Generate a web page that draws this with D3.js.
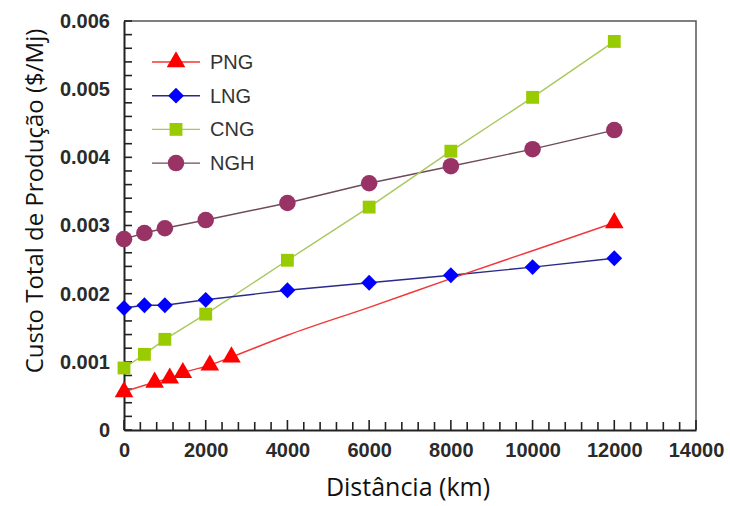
<!DOCTYPE html>
<html>
<head>
<meta charset="utf-8">
<script src="https://cdn.jsdelivr.net/npm/d3@7"></script>
<style>
  body { margin: 0; background: #fff; }
  .tick text { font-family: "Liberation Sans", Arial, sans-serif; font-weight: bold; font-size: 20px; fill: #2a2a2a; }
</style>
</head>
<body>
<div id="chart"></div>
<script>
// distances (km)
var pngX = [0, 750, 1120, 1440, 2100, 2630, 12000];
var pngY = [0.00056, 0.00070, 0.00076, 0.00084, 0.00095, 0.00107, 0.00304];
// PNG fitted curve (no markers between 2600 and 12000)
var pngCurveX = [0, 750, 1120, 1440, 2100, 2630, 4000, 6000, 8000, 10000, 12000];
var pngCurveY = [0.00056, 0.00070, 0.00076, 0.00084, 0.00095, 0.00107, 0.00139, 0.00180, 0.00222, 0.00263, 0.00304];

var distX = [0, 500, 1000, 2000, 4000, 6000, 8000, 10000, 12000];
var lngY = [0.00179, 0.00183, 0.00183, 0.00191, 0.00205, 0.00216, 0.00227, 0.00239, 0.00252];
var cngY = [0.00091, 0.00111, 0.00133, 0.00170, 0.00249, 0.00327, 0.00409, 0.00488, 0.00570];
var nghY = [0.00280, 0.00289, 0.00296, 0.00308, 0.00333, 0.00362, 0.00387, 0.00412, 0.00440];

var seriesNames = ["PNG", "LNG", "CNG", "NGH"];
var yTicks = [0, 0.001, 0.002, 0.003, 0.004, 0.005, 0.006];
var xTicks = [0, 2000, 4000, 6000, 8000, 10000, 12000, 14000];

var W = 730, H = 506;
var margin = {left: 124, top: 21, right: 34, bottom: 76};
var w = W - margin.left - margin.right;
var h = H - margin.top - margin.bottom;

var svg = d3.select("#chart").append("svg").attr("width", W).attr("height", H);
var g = svg.append("g").attr("transform", "translate(" + margin.left + "," + margin.top + ")");

var x = d3.scaleLinear().domain([0, 14000]).range([0, w]);
var y = d3.scaleLinear().domain([0, 0.006]).range([h, 0]);

// top and right frame
g.append("path").attr("d", "M0,0H" + w + "V" + h)
  .attr("fill", "none").attr("stroke", "#555").attr("stroke-width", 1.5);

// inward minor ticks
var xMinor = d3.range(0, 36).map(function(i) { return i * 400; });
var yMinor = d3.range(0, 31).map(function(i) { return i * 0.0002; });
var tickG = g.append("g").attr("class", "minor-ticks");
tickG.selectAll("line.xm").data(xMinor).enter().append("line")
  .attr("class", "xm")
  .attr("x1", function(d) { return x(d); }).attr("x2", function(d) { return x(d); })
  .attr("y1", h).attr("y2", function(d) { return h - (d % 2000 === 0 ? 10 : 8); })
  .style("stroke", "#222").style("stroke-width", "1.6px");
tickG.selectAll("line.ym").data(yMinor).enter().append("line")
  .attr("class", "ym")
  .attr("y1", function(d) { return y(d); }).attr("y2", function(d) { return y(d); })
  .attr("x1", 0).attr("x2", 8)
  .style("stroke", "#222").style("stroke-width", "1.6px");

// labelled axes
g.append("g").attr("transform", "translate(0," + h + ")")
  .call(d3.axisBottom(x).tickValues(xTicks).tickSizeInner(0).tickSizeOuter(0).tickPadding(13).tickFormat(d3.format("d")))
  .call(function(s) { s.select(".domain").attr("stroke", "#222").attr("stroke-width", 2); });
g.append("g")
  .call(d3.axisLeft(y).tickValues(yTicks).tickSizeInner(0).tickSizeOuter(0).tickPadding(14).tickFormat(function(d) { return d === 0 ? "0" : d3.format(".3f")(d); }))
  .call(function(s) { s.select(".domain").attr("stroke", "#222").attr("stroke-width", 2); });

var line = d3.line().x(function(d) { return x(d[0]); }).y(function(d) { return y(d[1]); });
var curve = d3.line().curve(d3.curveMonotoneX).x(function(d) { return x(d[0]); }).y(function(d) { return y(d[1]); });

function zip(a, b) { return a.map(function(v, i) { return [v, b[i]]; }); }

var styles = {
  PNG: {line: "#f0383a", fill: "#ff0000", sym: d3.symbolTriangle, size: 150, rot: 0},
  LNG: {line: "#2a2a8a", fill: "#0000ff", sym: d3.symbolSquare, size: 125, rot: 45},
  CNG: {line: "#a9c85a", fill: "#99cc00", sym: d3.symbolSquare, size: 165, rot: 0},
  NGH: {line: "#6e4a5a", fill: "#993366", sym: d3.symbolCircle, size: 215, rot: 0}
};

var data = {
  PNG: {line: zip(pngCurveX, pngCurveY), pts: zip(pngX, pngY), smooth: true},
  LNG: {line: zip(distX, lngY), pts: zip(distX, lngY)},
  CNG: {line: zip(distX, cngY), pts: zip(distX, cngY)},
  NGH: {line: zip(distX, nghY), pts: zip(distX, nghY)}
};

var order = ["NGH", "CNG", "LNG", "PNG"];
order.forEach(function(name) {
  var st = styles[name], d = data[name];
  g.append("path").datum(d.line)
    .attr("d", d.smooth ? curve : line)
    .attr("fill", "none").attr("stroke", st.line).attr("stroke-width", 1.4);
});
order.forEach(function(name) {
  var st = styles[name], d = data[name];
  g.selectAll(".m" + name).data(d.pts).enter().append("path")
    .attr("transform", function(p) { return "translate(" + x(p[0]) + "," + y(p[1]) + ") rotate(" + st.rot + ")"; })
    .attr("d", d3.symbol().type(st.sym).size(st.size))
    .attr("fill", st.fill);
});

// legend
var legend = g.append("g").attr("transform", "translate(28,41)");
seriesNames.forEach(function(name, i) {
  var st = styles[name];
  var row = legend.append("g").attr("transform", "translate(0," + (i * 33.7) + ")");
  row.append("line").attr("x1", 0).attr("x2", 48).attr("stroke", st.line).attr("stroke-width", 1.4);
  row.append("path").attr("transform", "translate(24,0) rotate(" + st.rot + ")")
    .attr("d", d3.symbol().type(st.sym).size(st.size)).attr("fill", st.fill);
  row.append("text").attr("x", 58).attr("y", 7)
    .attr("font-family", "Liberation Sans, Arial, sans-serif").attr("font-size", 20).attr("fill", "#333")
    .text(name);
});

// axis titles
svg.append("text").attr("x", 408).attr("y", 496)
  .attr("text-anchor", "middle").attr("font-family", "Open Sans, sans-serif").attr("font-size", 25).attr("fill", "#111")
  .text("Distância (km)");
svg.append("text").attr("transform", "translate(43,201) rotate(-90)")
  .attr("text-anchor", "middle").attr("font-family", "Open Sans, sans-serif").attr("font-size", 24).attr("fill", "#111")
  .text("Custo Total de Produção ($/Mj)");
</script>
</body>
</html>
